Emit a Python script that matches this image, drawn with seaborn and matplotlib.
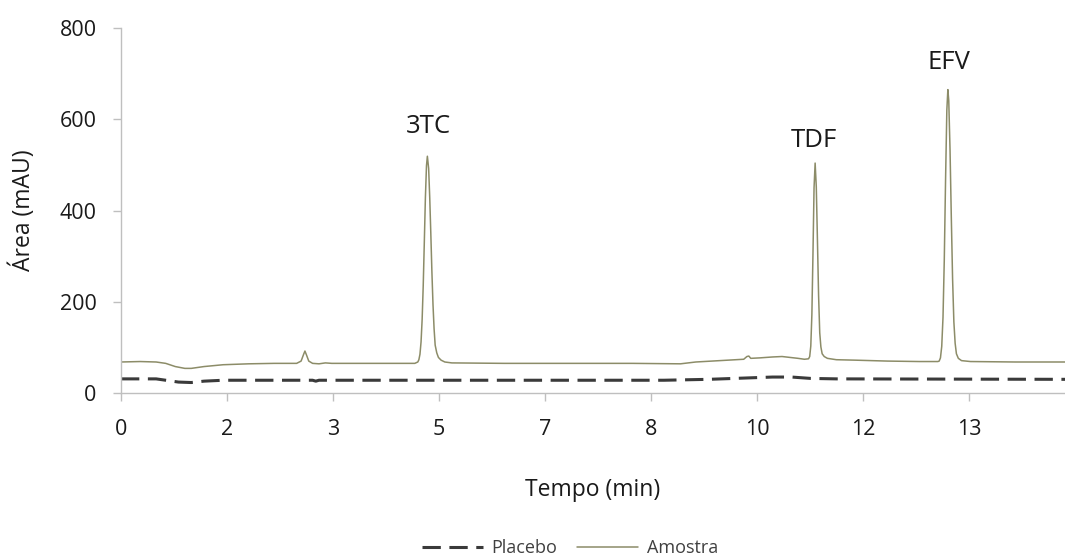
import matplotlib
matplotlib.use("Agg")
import matplotlib.pyplot as plt
import seaborn as sns
import pandas as pd
from matplotlib.lines import Line2D

# ---- data ----
# Amostra, by segment
base1_t = [0.0, 0.3, 0.55, 0.7, 0.85, 1.0, 1.1, 1.3, 1.6, 2.0, 2.4, 2.75,
           2.82, 2.86, 2.88, 2.90, 2.94, 3.0, 3.1, 3.2, 3.3, 4.0, 4.60]
base1_v = [68, 69, 68, 65, 58, 54, 54, 58, 62, 64, 65, 65,
           70, 85, 92, 85, 70, 65, 64, 66, 65, 65, 65]
p3tc_t = [4.647, 4.664, 4.681, 4.698, 4.715, 4.732, 4.749, 4.766, 4.783, 4.797,
          4.817, 4.834, 4.851, 4.868, 4.885, 4.902, 4.919, 4.944, 4.97, 5.012,
          5.07, 5.18]
p3tc_v = [68, 73, 85, 112, 161, 235, 330, 428, 498, 519,
          492, 428, 349, 265, 194, 141, 105, 88, 78, 72,
          68, 66]
mid_t = [6.0, 7.0, 8.0, 8.76, 9.0, 9.5, 9.75, 9.80, 9.83, 9.86, 10.0, 10.2,
         10.35, 10.6, 10.7]
mid_v = [65, 65, 65, 64, 68, 72, 74, 80, 81, 76, 77, 79,
         80, 76, 74]
ptdf_t = [10.765, 10.783, 10.80, 10.817, 10.834, 10.851, 10.868, 10.886, 10.904,
          10.922, 10.94, 10.958, 10.978, 11.01, 11.06, 11.2, 11.5, 12.0, 12.5,
          12.79]
ptdf_v = [75, 80, 103, 172, 304, 450, 504, 452, 335,
          214, 132, 101, 86, 80, 76, 73, 72, 70, 69,
          69]
pefv_t = [12.81, 12.83, 12.85, 12.87, 12.89, 12.91, 12.93, 12.946, 12.96,
          12.98, 13.00, 13.02, 13.04, 13.06, 13.08, 13.11, 13.16, 13.3, 14.0,
          14.78]
pefv_v = [70, 77, 102, 166, 292, 467, 620, 665, 641,
          533, 385, 250, 156, 109, 86, 76, 71, 69, 68,
          68]

placebo_t = [0.0, 0.55, 0.7, 0.9, 1.1, 1.3, 1.6, 3.0, 3.05, 3.1, 8.5, 9.2,
             9.8, 10.2, 10.5, 10.8, 11.2, 14.78]
placebo_v = [31, 31, 28, 24, 23, 26, 28, 28, 26, 28, 28, 30,
             33, 35, 35, 32, 31, 30]

x_tick_labels = ["0", "2", "3", "5", "7", "8", "10", "12", "13"]
y_ticks = [0, 200, 400, 600, 800]

peak_names = ["3TC", "TDF", "EFV"]
peak_t = [4.81, 10.85, 12.96]
label_v = [584, 554, 725]

amostra_t = base1_t + p3tc_t + mid_t + ptdf_t + pefv_t
amostra_v = base1_v + p3tc_v + mid_v + ptdf_v + pefv_v

# ---- style ----
sns.set_style("white")
plt.rcParams["font.family"] = ["Open Sans", "DejaVu Sans"]

TXT = "#1a1a1a"
GRID = "#bfbfbf"
C_AM = "#8c8c68"
C_PL = "#3a3a3a"
DASH = (0, (6, 2.8))

fig = plt.figure(figsize=(10.65, 5.57), dpi=100)
ax = fig.add_axes([0.1136, 0.2944, 0.8864, 0.6553])

df_a = pd.DataFrame({"t": amostra_t, "v": amostra_v})
df_p = pd.DataFrame({"t": placebo_t, "v": placebo_v})

sns.lineplot(data=df_p, x="t", y="v", ax=ax, color=C_PL, linewidth=2.2,
             linestyle=DASH, estimator=None, sort=False)
sns.lineplot(data=df_a, x="t", y="v", ax=ax, color=C_AM, linewidth=1.1,
             estimator=None, sort=False)

for name, t, v in zip(peak_names, peak_t, label_v):
    ax.text(t, v, name, ha="center", va="center", fontsize=18.5, color=TXT)

step = 1.66
ax.set_xticks([i * step for i in range(len(x_tick_labels))])
ax.set_xticklabels(x_tick_labels)
ax.set_xlim(0, 14.78)
ax.set_ylim(0, 800)
ax.set_yticks(y_ticks)

for s in ["top", "right"]:
    ax.spines[s].set_visible(False)
for s in ["left", "bottom"]:
    ax.spines[s].set_color(GRID)
    ax.spines[s].set_linewidth(1.0)

ax.tick_params(axis="x", which="both", bottom=True, length=5.5, width=1,
               color=GRID, labelsize=15.5, labelcolor=TXT, pad=13)
ax.tick_params(axis="y", which="both", left=True, length=5.5, width=1,
               color=GRID, labelsize=15.5, labelcolor=TXT, pad=12)

ax.set_xlabel("Tempo (min)", fontsize=16.5, color=TXT)
ax.set_ylabel("Área (mAU)", fontsize=16.5, color=TXT)
ax.xaxis.set_label_coords(0.5, -0.232)
ax.yaxis.set_label_coords(-0.09, 0.5)

handles = [Line2D([], [], color=C_PL, linewidth=2.2, linestyle=DASH),
           Line2D([], [], color=C_AM, linewidth=1.1)]
fig.legend(handles, ["Placebo", "Amostra"], loc="center",
           bbox_to_anchor=(0.535, 0.016), ncol=2, frameon=False,
           fontsize=13, handlelength=3.4, handletextpad=0.45,
           columnspacing=1.1, labelcolor="#404040")

fig.savefig("out.png", dpi=100)
